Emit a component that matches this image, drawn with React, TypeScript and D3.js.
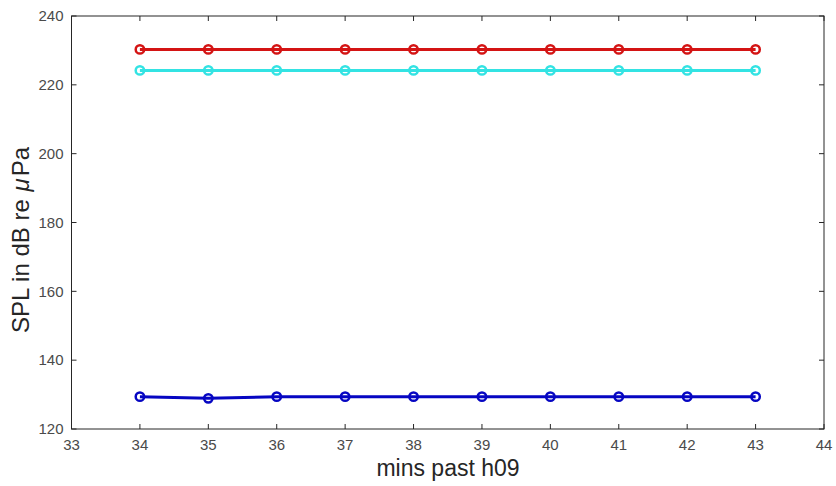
import React from "react";
import * as d3 from "d3";

const minutes = [34, 35, 36, 37, 38, 39, 40, 41, 42, 43];
const redSeries = [230.3, 230.3, 230.3, 230.3, 230.3, 230.3, 230.3, 230.3, 230.3, 230.3];
const cyanSeries = [224.2, 224.2, 224.2, 224.2, 224.2, 224.2, 224.2, 224.2, 224.2, 224.2];
const blueSeries = [129.4, 128.9, 129.4, 129.4, 129.4, 129.4, 129.4, 129.4, 129.4, 129.4];
const xTicks = [33, 34, 35, 36, 37, 38, 39, 40, 41, 42, 43, 44];
const yTicks = [120, 140, 160, 180, 200, 220, 240];

const W = 836, H = 486;
const L = 71.5, R = 824, T = 16, B = 429;

export default function App() {
  const x = d3.scaleLinear().domain([33, 44]).range([L, R]);
  const y = d3.scaleLinear().domain([120, 240]).range([B, T]);
  const line = d3.line<number>().x((_, i) => x(minutes[i])).y((d) => y(d));
  const series = [
    { data: redSeries, color: "#d41414" },
    { data: cyanSeries, color: "#33e3e3" },
    { data: blueSeries, color: "#0606c2" },
  ];
  const tl = 5;
  const axisColor = "#262626";
  const textColor = "#4a4a4a";
  const font = "'Liberation Sans', Arial, Helvetica, sans-serif";
  return (
    <svg width={W} height={H} style={{ position: "absolute", left: 0, top: 0, background: "#fff" }} fontFamily={font}>
      <rect x={0} y={0} width={W} height={H} fill="#fff" />
      {series.map((s, si) => (
        <g key={si}>
          <path d={line(s.data) || ""} fill="none" stroke={s.color} strokeWidth={3} />
          {s.data.map((v, i) => (
            <circle key={i} cx={x(minutes[i])} cy={y(v)} r={4.2} fill="none" stroke={s.color} strokeWidth={2.5} />
          ))}
        </g>
      ))}
      <rect x={L} y={T} width={R - L} height={B - T} fill="none" stroke={axisColor} strokeWidth={1} />
      {xTicks.map((t) => (
        <g key={"x" + t}>
          <line x1={x(t)} x2={x(t)} y1={B} y2={B - tl} stroke={axisColor} />
          <line x1={x(t)} x2={x(t)} y1={T} y2={T + tl} stroke={axisColor} />
          <text x={x(t)} y={450} textAnchor="middle" fontSize={15} fill={textColor}>{t}</text>
        </g>
      ))}
      {yTicks.map((t) => (
        <g key={"y" + t}>
          <line x1={L} x2={L + tl} y1={y(t)} y2={y(t)} stroke={axisColor} />
          <line x1={R} x2={R - tl} y1={y(t)} y2={y(t)} stroke={axisColor} />
          <text x={L - 8} y={y(t) + 5.3} textAnchor="end" fontSize={15} fill={textColor}>{t}</text>
        </g>
      ))}
      <text x={448} y={476} textAnchor="middle" fontSize={23} fill="#262626">mins past h09</text>
      <text transform={`translate(29, 240) rotate(-90)`} textAnchor="middle" fontSize={24} fill="#262626">
        SPL in dB re <tspan fontStyle="italic" dx={1}>μ</tspan><tspan dx={2}>Pa</tspan>
      </text>
    </svg>
  );
}
